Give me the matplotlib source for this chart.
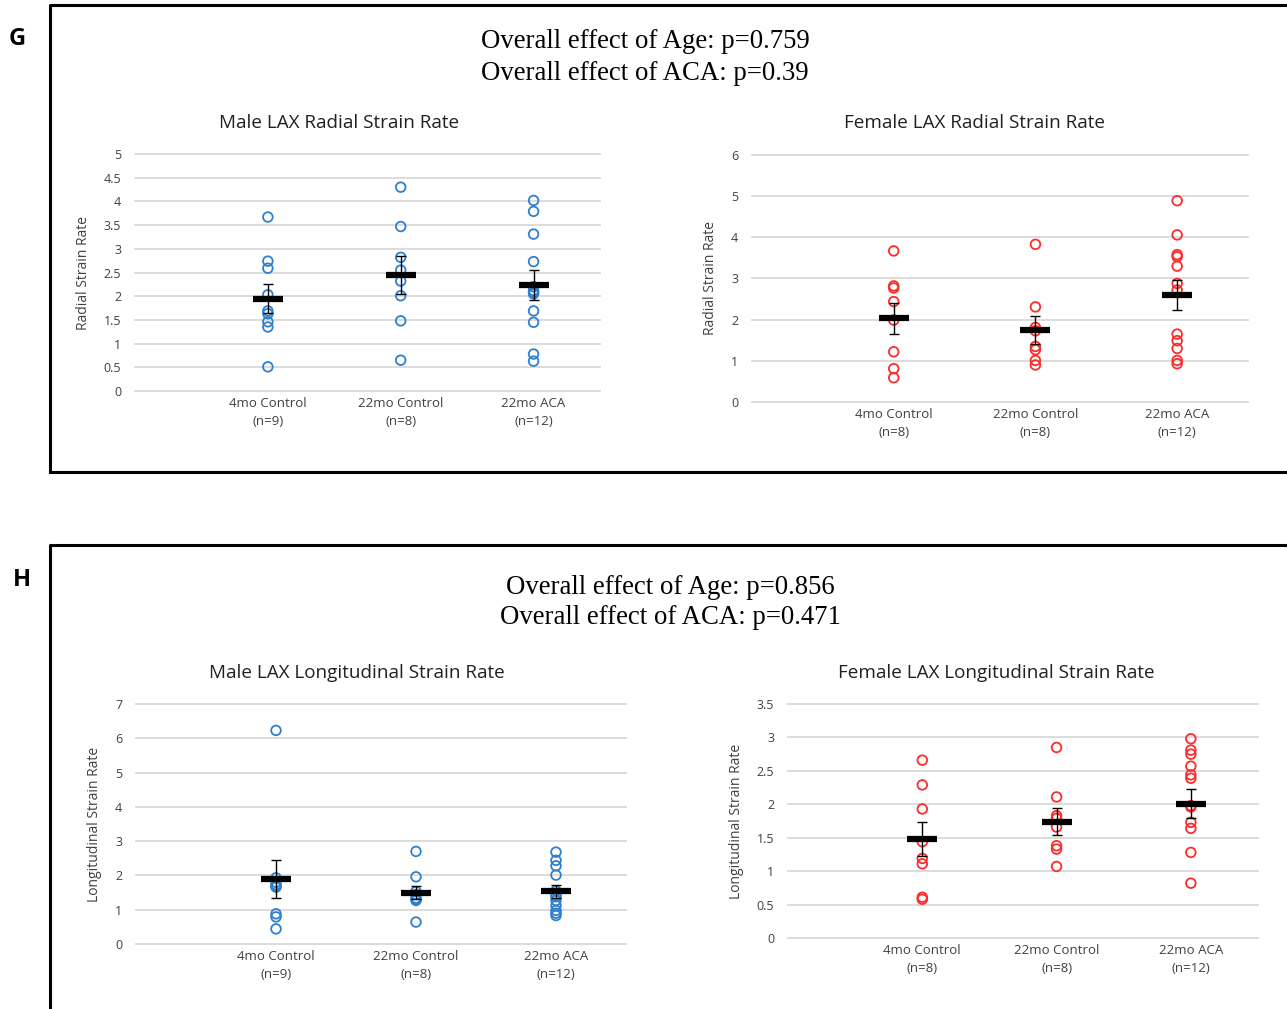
import matplotlib
matplotlib.use('Agg')
import matplotlib.pyplot as plt
import numpy as np

W, H = 1287, 1009
BLUE = '#2E80CE'
RED = '#FF2B2B'
GRID = '#D9D9D9'
SANS = ['Open Sans', 'DejaVu Sans']
SERIF = ['Liberation Serif', 'DejaVu Serif']

groups = ['4mo Control', '22mo Control', '22mo ACA']

# G: radial strain rate, male
g_male_4mo = [3.67, 2.74, 2.59, 2.03, 1.69, 1.63, 1.46, 1.35, 0.51]
g_male_22c = [4.30, 3.47, 2.82, 2.55, 2.32, 2.01, 1.48, 0.65]
g_male_22a = [4.02, 3.79, 3.31, 2.73, 2.20, 2.12, 2.08, 2.05, 1.69, 1.45, 0.78, 0.63]
g_male_mean = [1.95, 2.44, 2.24]
g_male_sem = [0.30, 0.40, 0.31]

# G: radial strain rate, female
g_fem_4mo = [3.67, 2.82, 2.77, 2.44, 1.99, 1.22, 0.81, 0.59]
g_fem_22c = [3.83, 2.31, 1.81, 1.73, 1.35, 1.27, 1.01, 0.90]
g_fem_22a = [4.89, 4.06, 3.58, 3.53, 3.30, 2.88, 2.72, 1.65, 1.49, 1.30, 1.01, 0.93]
g_fem_mean = [2.03, 1.76, 2.60]
g_fem_sem = [0.38, 0.34, 0.37]

# H: longitudinal strain rate, male
h_male_4mo = [6.23, 1.93, 1.80, 1.73, 1.66, 1.68, 0.88, 0.79, 0.44]
h_male_22c = [2.70, 1.96, 1.53, 1.44, 1.34, 1.27, 1.30, 0.64]
h_male_22a = [2.68, 2.44, 2.28, 2.01, 1.55, 1.44, 1.38, 1.27, 1.12, 0.98, 0.90, 0.83]
h_male_mean = [1.90, 1.50, 1.54]
h_male_sem = [0.56, 0.20, 0.19]

# H: longitudinal strain rate, female
h_fem_4mo = [2.66, 2.29, 1.93, 1.44, 1.19, 1.11, 0.61, 0.58]
h_fem_22c = [2.85, 2.11, 1.83, 1.79, 1.66, 1.38, 1.33, 1.07]
h_fem_22a = [2.98, 2.81, 2.75, 2.57, 2.44, 2.39, 1.98, 1.96, 1.73, 1.64, 1.28, 0.82]
h_fem_mean = [1.48, 1.74, 2.01]
h_fem_sem = [0.26, 0.20, 0.22]


def add_panel(fig, x0, x1, ytop, ybot, ymax, ystep, title, title_x, title_y, ylabel,
              data, means, sems, ns, color):
    ax = fig.add_axes([x0 / W, 1 - ybot / H, (x1 - x0) / W, (ybot - ytop) / H])
    ax.set_xlim(0, 3.5)
    ax.set_ylim(0, ymax)
    ticks = np.arange(0, ymax + ystep / 2, ystep)
    ax.set_yticks(ticks)
    ax.set_yticklabels(['%g' % t for t in ticks], family=SANS, fontsize=9, color='#404040')
    for t in ticks:
        ax.axhline(t, color=GRID, lw=1.3, zorder=0, clip_on=False)
    ax.set_xticks([1, 2, 3])
    ax.set_xticklabels(['%s\n(n=%d)' % (g, n) for g, n in zip(groups, ns)],
                       family=SANS, fontsize=9.5, color='#404040', linespacing=1.5)
    ax.tick_params(length=0, pad=4)
    ax.tick_params(axis='y', pad=10)
    for s in ax.spines.values():
        s.set_visible(False)
    ax.patch.set_visible(False)
    ax.set_ylabel(ylabel, family=SANS, fontsize=10, color='#404040', labelpad=9)
    for i, vals in enumerate(data):
        ax.scatter([i + 1] * len(vals), vals, s=48, facecolors='none',
                   edgecolors=color, linewidths=1.3, zorder=3, clip_on=False)
    xs = [1, 2, 3]
    ax.errorbar(xs, means, yerr=sems, fmt='none', ecolor='black', elinewidth=1,
                capsize=3.5, capthick=1, zorder=4)
    ax.plot(xs, means, ls='none', marker='_', ms=22, mew=4.5, color='black', zorder=5)
    fig.text(title_x / W, 1 - title_y / H, title, family=SANS,
             fontsize=13.6, color='#202020', ha='center', va='center')
    return ax


fig = plt.figure(figsize=(W / 100, H / 100), dpi=100)

# frame lines and panel letters on a full-figure overlay
bg = fig.add_axes([0, 0, 1, 1])
bg.set_xlim(0, W)
bg.set_ylim(H, 0)
bg.axis('off')
bg.plot([50, 50, W], [472, 5, 5], color='black', lw=2.2, solid_capstyle='butt')
bg.plot([50, W], [472, 472], color='black', lw=2.2)
bg.plot([50, 50, W], [H, 545, 545], color='black', lw=2.2, solid_capstyle='butt')
bg.text(17, 39, 'G', family=SANS, fontsize=17, weight='bold', ha='center', va='center')
bg.text(22, 580, 'H', family=SANS, fontsize=17, weight='bold', ha='center', va='center')

bg.text(645, 42, 'Overall effect of Age: p=0.759', family=SERIF, fontsize=19.3,
        ha='center', va='center')
bg.text(645, 73, 'Overall effect of ACA: p=0.39', family=SERIF, fontsize=19.3,
        ha='center', va='center')
bg.text(670, 587, 'Overall effect of Age: p=0.856', family=SERIF, fontsize=19.3,
        ha='center', va='center')
bg.text(670, 617, 'Overall effect of ACA: p=0.471', family=SERIF, fontsize=19.3,
        ha='center', va='center')

add_panel(fig, 135, 600, 154, 391, 5, 0.5, 'Male LAX Radial Strain Rate', 339, 123,
          'Radial Strain Rate', [g_male_4mo, g_male_22c, g_male_22a],
          g_male_mean, g_male_sem, [9, 8, 12], BLUE)
add_panel(fig, 752, 1248, 155, 402, 6, 1, 'Female LAX Radial Strain Rate', 975, 123,
          'Radial Strain Rate', [g_fem_4mo, g_fem_22c, g_fem_22a],
          g_fem_mean, g_fem_sem, [8, 8, 12], RED)
add_panel(fig, 136, 626, 704, 944, 7, 1, 'Male LAX Longitudinal Strain Rate', 357, 673,
          'Longitudinal Strain Rate', [h_male_4mo, h_male_22c, h_male_22a],
          h_male_mean, h_male_sem, [9, 8, 12], BLUE)
add_panel(fig, 788, 1258, 704, 938, 3.5, 0.5, 'Female LAX Longitudinal Strain Rate', 996, 673,
          'Longitudinal Strain Rate', [h_fem_4mo, h_fem_22c, h_fem_22a],
          h_fem_mean, h_fem_sem, [8, 8, 12], RED)

fig.savefig('out.png', dpi=100)
